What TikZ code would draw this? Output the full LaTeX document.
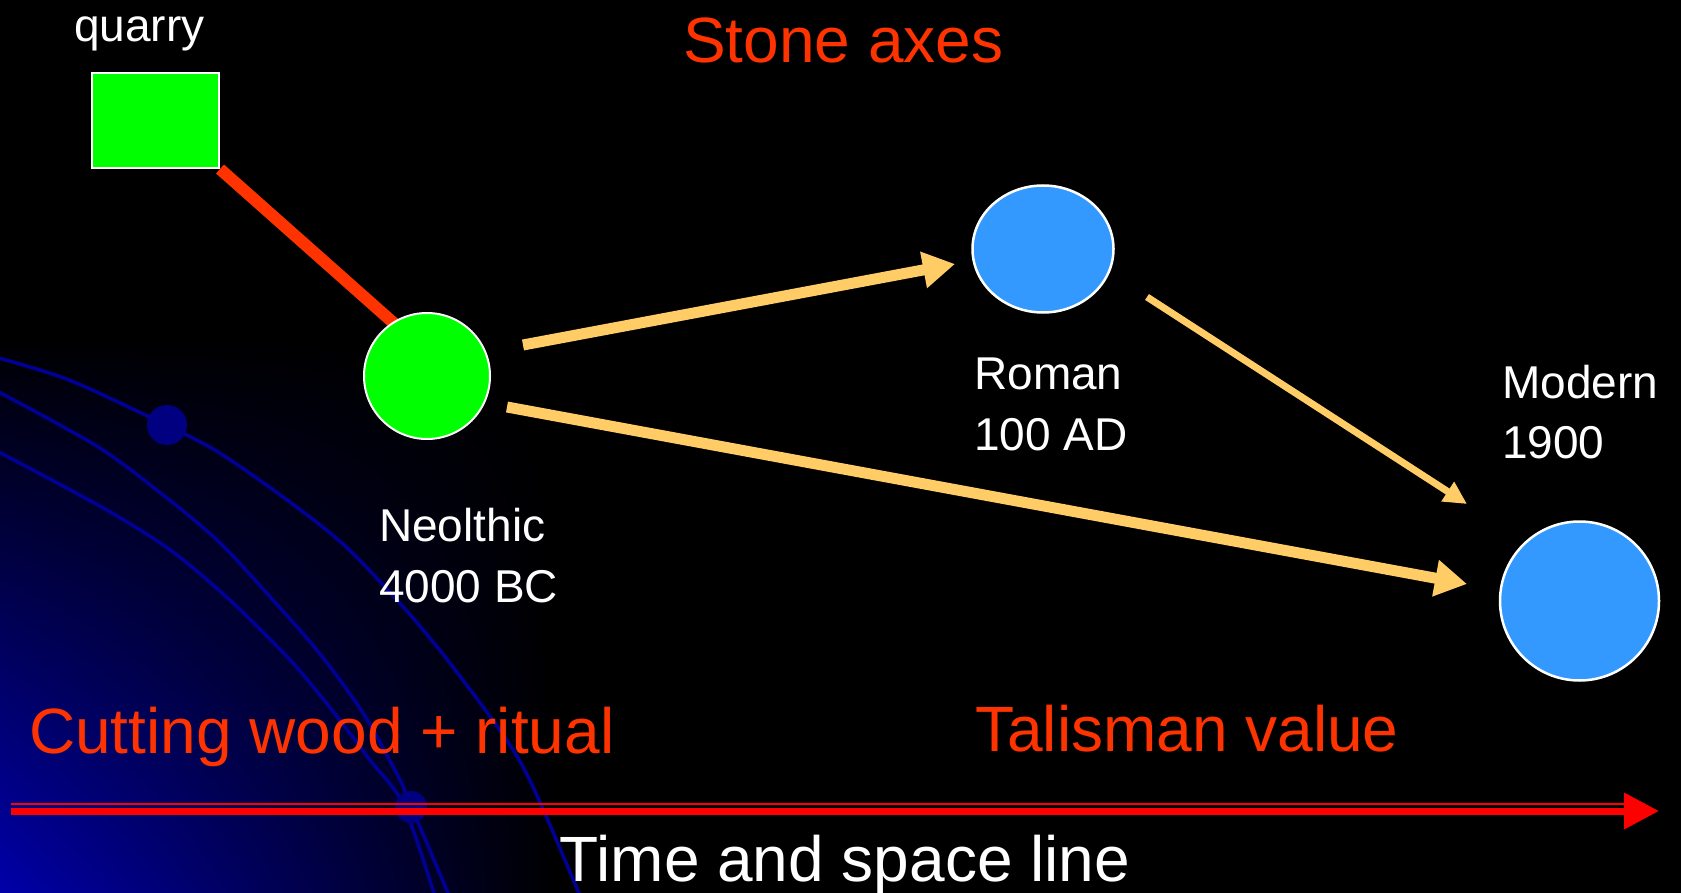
\documentclass[tikz,border=0pt]{standalone}
\usepackage{fontspec}
\setmainfont{Liberation Sans}
\usetikzlibrary{arrows.meta,calc,shapes.geometric,fadings}
\definecolor{hotred}{HTML}{FF3300}
\definecolor{lime}{HTML}{00FF00}
\definecolor{sky}{HTML}{3399FF}
\definecolor{goldarrow}{HTML}{FFCC66}
\definecolor{pure}{HTML}{FF0000}
\definecolor{cornerblue}{RGB}{0,0,170}
\definecolor{orbitblue}{RGB}{0,0,150}
\definecolor{dotblue}{RGB}{0,0,128}
\tikzfading[name=fadeup, top color=transparent!100, bottom color=transparent!0]
\pgfdeclarelayer{bg}
\pgfdeclarelayer{links}
\pgfsetlayers{bg,links,main}
\begin{document}
\begin{tikzpicture}[x=1pt,y=-1pt,
  lbl/.style={text=white,font=\fontsize{46}{57}\selectfont,inner sep=0pt,anchor=base west,align=left},
  bigtxt/.style={text=hotred,font=\fontsize{64}{74}\selectfont,inner sep=0pt,anchor=base west},
  greenbox/.style={rectangle,draw=white,line width=2pt,fill=lime,inner sep=0pt,minimum width=127pt,minimum height=95pt},
  greendisc/.style={circle,draw=white,line width=2pt,fill=lime,inner sep=0pt,minimum size=126pt},
  bluedisc/.style={circle,draw=white,line width=2.5pt,fill=sky,inner sep=0pt},
  blueoval/.style={ellipse,draw=white,line width=2.5pt,fill=sky,inner sep=0pt,minimum width=141pt,minimum height=127pt},
  orbit/.style={draw=orbitblue,line width=3.5pt},
  link/.style={draw=hotred,line width=12pt},
  goldbig/.style={draw=goldarrow,line width=11pt,-{Triangle[length=32pt,width=35pt]}},
  goldsmall/.style={draw=goldarrow,line width=7pt,-{Triangle[length=23pt,width=22pt]}}
]
\path[use as bounding box] (0,0) rectangle (1681,893);
\begin{pgfonlayer}{bg}
  \fill[black] (0,0) rectangle (1681,893);
  \begin{scope}
    \clip (0,0) rectangle (1681,893);
    \shade[left color=cornerblue, right color=black, path fading=fadeup] (0,333) rectangle (560,893);
    \draw[orbit] plot[smooth] coordinates {(-5,357) (69,380) (166,425) (218,452) (283,497) (344,545) (406,610) (459,675) (522,765) (579,893) (585,905)};
    \draw[orbit] plot[smooth] coordinates {(-5,390) (95,445) (158,491) (218,541) (273,600) (320,654) (363,713) (398,776) (411,806) (448,893) (452,905)};
    \draw[orbit] plot[smooth] coordinates {(-5,450) (105,509) (173,552) (233,603) (292,662) (335,714) (370,760) (403,804) (434,893) (437,905)};
    \fill[dotblue] (167,425) circle (20);
    \fill[dotblue] (411,807) circle (16);
  \end{scope}
\end{pgfonlayer}

% nodes
\node[greenbox] (q) at (155.5,120.5) {};
\node[greendisc] (neo) at (427,376) {};
\node[blueoval] (rom) at (1043,249) {};
\node[bluedisc,minimum size=159pt] (mod) at (1579.5,601) {};

% labels (base anchor = last line)
\node[lbl] (ql) at (74,42) {quarry};
\node[lbl] (neol) at (379,602) {Neolthic\\[4pt]4000 BC};
\node[lbl] (roml) at (974,450) {Roman\\[4pt]100 AD};
\node[lbl] (modl) at (1502,458) {Modern\\[3pt]1900};
\node[bigtxt] (title) at (683,63) {Stone axes};
\node[bigtxt] (cut) at (29,753) {Cutting wood + ritual};
\node[bigtxt] (tal) at (975,751) {Talisman value};
\node[text=white,font=\fontsize{64}{74}\selectfont,inner sep=0pt,anchor=base] (tsl) at (845,881) {Time and space line};

% time line
\coordinate (t0) at (11,811);
\coordinate (t1) at (1659,811);
\coordinate (u0) at (11,804);
\coordinate (u1) at (1625,804);

\begin{pgfonlayer}{links}
  \draw[link] (q.south east) -- ($(neo.center)+(-12,-34)$);
  \draw[goldbig] ($(neo.center)+(96,-31)$) -- ($(rom.center)+(-88,15)$);
  \draw[goldbig] ($(neo.center)+(80,31)$) -- ($(mod.center)+(-112.5,-17)$);
  \draw[goldsmall] ($(rom.center)+(104,48)$) -- ($(mod.center)+(-112.5,-97)$);
  \draw[pure,line width=2pt] (u0) -- (u1);
  \draw[pure,line width=7pt,-{Triangle[length=35pt,width=35pt]}] (t0) -- (t1);
\end{pgfonlayer}
\end{tikzpicture}
\end{document}
